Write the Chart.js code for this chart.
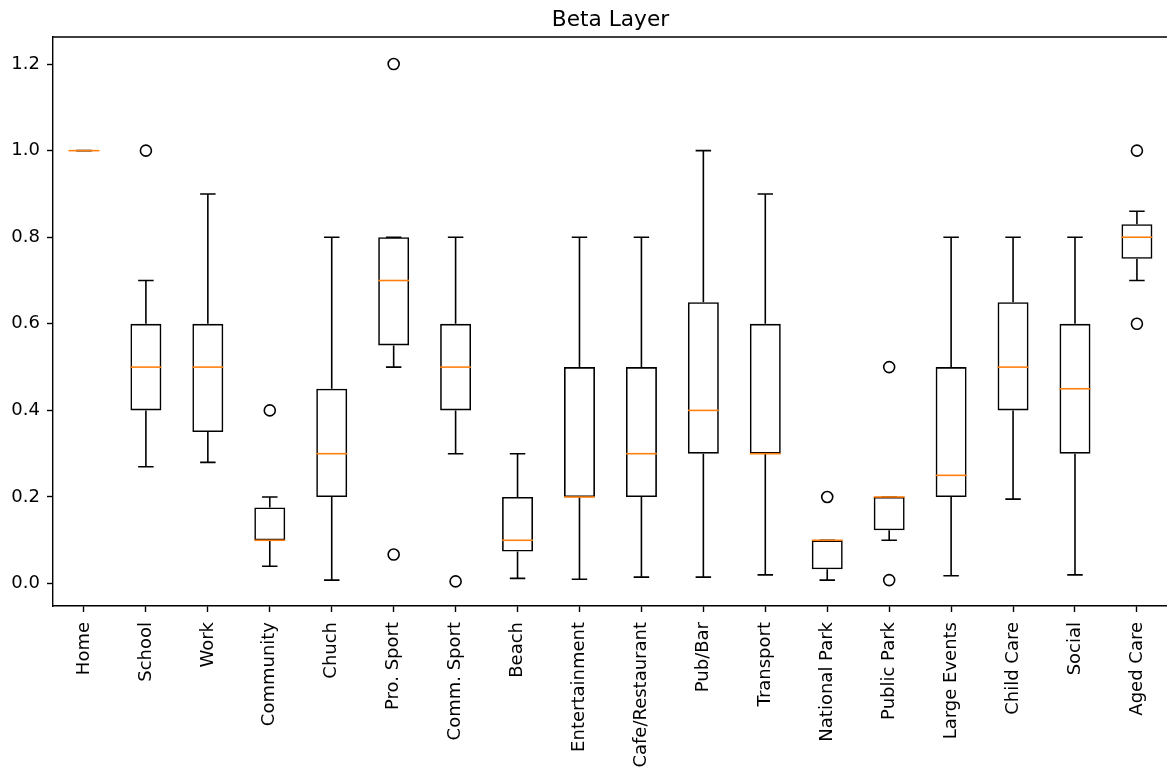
<!DOCTYPE html>
<html>
<head>
<meta charset="utf-8">
<script src="https://cdn.jsdelivr.net/npm/chart.js@4.4.0/dist/chart.umd.min.js"></script>
<style>
    html, body { margin: 0; padding: 0; background: #fff; overflow: hidden; }
</style>
</head>
<body>
<canvas id="chart-beta" width="1175" height="774"></canvas>
<script>
const categories = ['Home', 'School', 'Work', 'Community', 'Chuch', 'Pro. Sport', 'Comm. Sport', 'Beach',
    'Entertainment', 'Cafe/Restaurant', 'Pub/Bar', 'Transport', 'National Park', 'Public Park',
    'Large Events', 'Child Care', 'Social', 'Aged Care'];

// box plot stats per category
const whiskerLow  = [1.0, 0.27, 0.28, 0.04, 0.008, 0.5, 0.3, 0.012, 0.01, 0.015, 0.015, 0.02, 0.008, 0.1, 0.018, 0.195, 0.02, 0.7];
const q1          = [1.0, 0.4, 0.35, 0.1, 0.2, 0.55, 0.4, 0.074, 0.2, 0.2, 0.3, 0.3, 0.033, 0.123, 0.2, 0.4, 0.3, 0.75];
const median      = [1.0, 0.5, 0.5, 0.1, 0.3, 0.7, 0.5, 0.1, 0.2, 0.3, 0.4, 0.3, 0.1, 0.2, 0.25, 0.5, 0.45, 0.8];
const q3          = [1.0, 0.6, 0.6, 0.176, 0.45, 0.8, 0.6, 0.2, 0.5, 0.5, 0.65, 0.6, 0.1, 0.2, 0.5, 0.65, 0.6, 0.83];
const whiskerHigh = [1.0, 0.7, 0.9, 0.2, 0.8, 0.8, 0.8, 0.3, 0.8, 0.8, 1.0, 0.9, 0.1, 0.2, 0.8, 0.8, 0.8, 0.86];
const outliers    = [[], [1.0], [], [0.4], [], [1.2, 0.067], [0.005], [], [], [], [], [], [0.2], [0.5, 0.008], [], [], [], [1.0, 0.6]];

const yTicks = [0.0, 0.2, 0.4, 0.6, 0.8, 1.0, 1.2];

const FONT = 'DejaVu Sans';
const LW = 1.6;

// whiskers, caps, medians + top/right spine
const boxExtras = {
    id: 'boxExtras',
    afterDatasetsDraw(chart) {
        const { ctx, chartArea, scales: { x, y } } = chart;
        const step = x.getPixelForValue(1) - x.getPixelForValue(0);
        const capHalf = step * 0.125;
        const boxHalf = step * 0.25;
        ctx.save();
        ctx.lineWidth = LW;
        ctx.strokeStyle = '#000';
        categories.forEach((c, i) => {
            const cx = x.getPixelForValue(i);
            const yLo = y.getPixelForValue(whiskerLow[i]);
            const yHi = y.getPixelForValue(whiskerHigh[i]);
            ctx.beginPath();
            ctx.moveTo(cx, y.getPixelForValue(q1[i]));
            ctx.lineTo(cx, yLo);
            ctx.moveTo(cx, y.getPixelForValue(q3[i]));
            ctx.lineTo(cx, yHi);
            ctx.moveTo(cx - capHalf, yLo);
            ctx.lineTo(cx + capHalf, yLo);
            ctx.moveTo(cx - capHalf, yHi);
            ctx.lineTo(cx + capHalf, yHi);
            ctx.stroke();
        });
        ctx.strokeStyle = '#ff7f0e';
        categories.forEach((c, i) => {
            const cx = x.getPixelForValue(i);
            const ym = y.getPixelForValue(median[i]);
            ctx.beginPath();
            ctx.moveTo(cx - boxHalf, ym);
            ctx.lineTo(cx + boxHalf, ym);
            ctx.stroke();
        });
        ctx.strokeStyle = '#000';
        ctx.lineWidth = 1.4;
        ctx.beginPath();
        ctx.moveTo(chartArea.left, chartArea.top);
        ctx.lineTo(chartArea.right, chartArea.top);
        ctx.lineTo(chartArea.right, chartArea.bottom);
        ctx.stroke();
        ctx.restore();
    }
};

const outlierPoints = [];
outliers.forEach((list, i) => list.forEach(v => outlierPoints.push({ x: categories[i], y: v })));

const ctx1 = document.getElementById('chart-beta');

new Chart(ctx1, {
    type: 'bar',
    data: {
        labels: categories,
        datasets: [{
            data: q1.map((v, i) => [v, q3[i]]),
            backgroundColor: 'rgba(0,0,0,0)',
            borderColor: '#000',
            borderWidth: LW,
            borderSkipped: false,
            barPercentage: 0.5,
            categoryPercentage: 1.0
        }, {
            type: 'line',
            data: outlierPoints,
            showLine: false,
            pointRadius: 5.5,
            pointBorderWidth: LW,
            pointBorderColor: '#000',
            pointBackgroundColor: 'rgba(0,0,0,0)'
        }]
    },
    options: {
        responsive: false,
        animation: false,
        layout: { padding: { left: 0, right: 3, top: 0, bottom: 0 } },
        plugins: {
            legend: { display: false },
            tooltip: { enabled: false },
            title: {
                display: true,
                fullSize: false, // center over the plot area like matplotlib
                text: 'Beta Layer',
                color: '#000',
                font: { family: FONT, size: 21.7, weight: 'normal', lineHeight: 1.2 },
                padding: { top: 7, bottom: 4 }
            }
        },
        scales: {
            x: {
                type: 'category',
                offset: true,
                grid: { offset: false, drawOnChartArea: false, drawTicks: true, tickLength: 6, tickColor: '#000', tickWidth: 1.4 },
                border: { color: '#000', width: 1.4 },
                ticks: {
                    color: '#000',
                    font: { family: FONT, size: 18 },
                    minRotation: 90,
                    maxRotation: 90,
                    autoSkip: false,
                    padding: 10
                },
                afterFit: s => { s.height = 168; }
            },
            y: {
                min: -0.0518,
                max: 1.2624,
                afterBuildTicks: s => { s.ticks = yTicks.map(v => ({ value: v })); },
                grid: { drawOnChartArea: false, drawTicks: true, tickLength: 6, tickColor: '#000', tickWidth: 1.4 },
                border: { color: '#000', width: 1.4 },
                ticks: {
                    color: '#000',
                    font: { family: FONT, size: 18 },
                    padding: 7,
                    callback: v => Number(v).toFixed(1)
                },
                afterFit: s => { s.width = 53; }
            }
        }
    },
    plugins: [boxExtras]
});
</script>
</body>
</html>
